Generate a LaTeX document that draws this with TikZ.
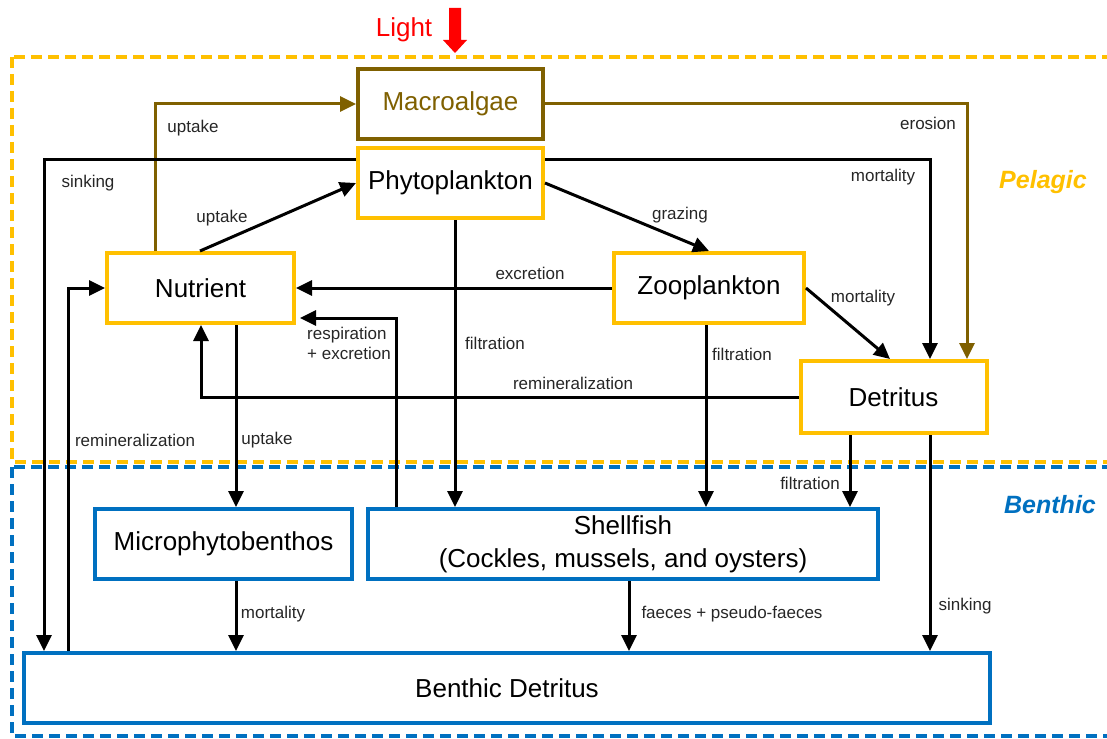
\documentclass[tikz,border=0pt]{standalone}
\usepackage{fontspec}
\setmainfont{Liberation Sans}
\usetikzlibrary{arrows.meta,calc}
\definecolor{pyellow}{HTML}{FFC000}
\definecolor{bblue}{HTML}{0070C0}
\definecolor{mbrown}{HTML}{7F6000}
\begin{document}
\begin{tikzpicture}[x=1pt,y=-1pt,
  box/.style={draw=#1, line width=4pt, fill=white, inner sep=0pt, align=center, font=\fontsize{26}{33}\selectfont},
  lab/.style={font=\fontsize{17}{20}\selectfont, inner sep=0pt, align=left, text=black!85},
  conn/.style={line width=3pt, -{Triangle[length=16pt,width=15pt]}},
  region/.style={line width=3.5pt, dash pattern=on 11pt off 6pt}]
\useasboundingbox (0,0) rectangle (1107,738);
% regions
\draw[region, pyellow] (12,57) rectangle (1135,462);
\draw[region, bblue] (12,467) rectangle (1135,736);
\node[font=\fontsize{25}{30}\selectfont\bfseries\itshape, text=pyellow] (pel) at (1043,182) {Pelagic};
\node[font=\fontsize{25}{30}\selectfont\bfseries\itshape, text=bblue] (ben) at (1050,505) {Benthic};
% light
\node[font=\fontsize{26}{30}\selectfont, text=red] (light) at (404,30) {Light};
\fill[red] (449,8) -- (461,8) -- (461,40) -- (467,40) -- (455,53) -- (443,40) -- (449,40) -- cycle;
% boxes
\node[box=mbrown, text=mbrown, minimum width=185pt, minimum height=70pt] (mac) at (450.5,104) {Macroalgae};
\node[box=pyellow, minimum width=185pt, minimum height=70pt] (phy) at (450.5,183) {Phytoplankton};
\node[box=pyellow, minimum width=187pt, minimum height=70pt] (nut) at (200.5,288) {Nutrient};
\node[box=pyellow, minimum width=190pt, minimum height=70pt] (zoo) at (709,288) {Zooplankton};
\node[box=pyellow, minimum width=186pt, minimum height=72pt] (det) at (893.5,397) {Detritus};
\node[box=bblue, minimum width=257pt, minimum height=70pt] (mpb) at (223.5,544) {Microphytobenthos};
\node[box=bblue, minimum width=510pt, minimum height=70pt] (shf) at (623,544) {Shellfish\\(Cockles, mussels, and oysters)};
\node[box=bblue, minimum width=966pt, minimum height=70pt] (bdt) at (507,688) {Benthic Detritus};
% connectors
\draw[conn, mbrown] (nut.north -| 155,0) |- (mac.west);
\draw[conn] (nut.north -| 200,0) -- (phy.west);
\draw[conn] (phy.west |- 0,160) -| (bdt.north -| 44,0);
\draw[conn] (phy.east |- 0,160) -| (det.north -| 930,0);
\draw[conn, mbrown] (mac.east) -| (det.north -| 967,0);
\draw[conn] (phy.east) -- (zoo.north);
\draw[conn] (zoo.west) -- (nut.east);
\draw[conn] (phy.south -| 455,0) -- (shf.north -| 455,0);
\draw[conn] (zoo.south -| 706,0) -- (shf.north -| 706,0);
\draw[conn] (zoo.east) -- (det.north -| 890,0);
\draw[conn] (det.west) -| (nut.south -| 201,0);
\draw[conn] (shf.north -| 396,0) |- ([xshift=4pt]nut.east |- 0,318);
\draw[conn] (nut.south -| 236,0) -- (mpb.north -| 236,0);
\draw[conn] (bdt.north -| 68,0) |- (nut.west);
\draw[conn] (det.south -| 850,0) -- (shf.north -| 850,0);
\draw[conn] (det.south -| 930,0) -- (bdt.north -| 930,0);
\draw[conn] (mpb.south -| 236,0) -- (bdt.north -| 236,0);
\draw[conn] (shf.south -| 629,0) -- (bdt.north -| 629,0);
% labels
\node[lab] (l1) at (193,128) {uptake};
\node[lab] (l2) at (222,218) {uptake};
\node[lab] (l3) at (88,183) {sinking};
\node[lab] (l4) at (883,177) {mortality};
\node[lab] (l5) at (928,123) {erosion};
\node[lab] (l6) at (680,215) {grazing};
\node[lab] (l7) at (530,273) {excretion};
\node[lab] (l8) at (495,343) {filtration};
\node[lab] (l9) at (742,354) {filtration};
\node[lab] (l10) at (863,298) {mortality};
\node[lab] (l11) at (573,383) {remineralization};
\node[lab, anchor=west] (l12) at (307,343) {respiration\\+ excretion};
\node[lab] (l13) at (267,440) {uptake};
\node[lab] (l14) at (135,440) {remineralization};
\node[lab] (l15) at (810,483) {filtration};
\node[lab] (l16) at (965,606) {sinking};
\node[lab] (l17) at (273,614) {mortality};
\node[lab] (l18) at (732,614) {faeces + pseudo-faeces};
\end{tikzpicture}
\end{document}
